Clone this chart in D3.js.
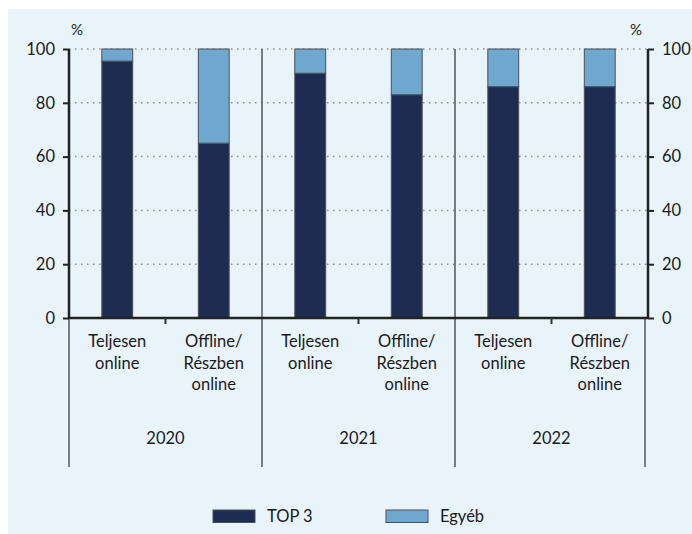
<!DOCTYPE html>
<html>
<head>
<meta charset="utf-8">
<script src="https://cdn.jsdelivr.net/npm/d3@7"></script>
<style>
  body { margin: 0; background: #fff; }
  text { font-family: Lato, "Open Sans", sans-serif; fill: #1a1a1a; }
</style>
</head>
<body>
<div id="chart"></div>
<script>
// data
var years = ["2020", "2021", "2022"];
var categories = [["Teljesen", "online"], ["Offline/", "Részben", "online"]];
var catKeys = ["teljes", "offline"];
var top3 = [95.5, 65, 91, 83, 86, 86];
var egyeb = [4.5, 35, 9, 17, 14, 14];
var seriesNames = ["TOP 3", "Egyéb"];
var colors = ["#1d2d52", "#6fa8cf"];
var yTicks = [0, 20, 40, 60, 80, 100];

var W = 692, H = 534;
var margin = {top: 49, right: 44, bottom: 216, left: 69};
var width = W - margin.left - margin.right;
var height = H - margin.top - margin.bottom;

var svg = d3.select("#chart")
    .append("svg")
    .attr("width", W)
    .attr("height", H);

// light background panel
svg.append("rect")
    .attr("x", 8).attr("y", 9)
    .attr("width", W - 8).attr("height", H - 9)
    .attr("fill", "#e8f3fa");

var g = svg.append("g")
    .attr("transform", "translate(" + margin.left + "," + margin.top + ")");

// build rows
var rows = [];
years.forEach(function (yr, i) {
    catKeys.forEach(function (c, j) {
        var k = i * 2 + j;
        rows.push({year: yr, cat: c, lines: categories[j], "TOP 3": top3[k], "Egyéb": egyeb[k]});
    });
});

var x0 = d3.scaleBand().domain(years).range([0, width]).padding(0);
var x1 = d3.scaleBand().domain(catKeys).range([0, x0.bandwidth()])
    .paddingInner(0.68).paddingOuter(0.34);
var y = d3.scaleLinear().domain([0, 100]).range([height, 0]);

// dotted gridlines
g.selectAll(".grid")
    .data(yTicks.filter(function (d) { return d > 0; }))
    .enter()
    .append("line")
    .attr("x1", 0).attr("x2", width)
    .attr("y1", function (d) { return y(d); })
    .attr("y2", function (d) { return y(d); })
    .attr("stroke", "#8a8f96")
    .attr("stroke-width", 1.5)
    .attr("stroke-dasharray", "1.5,4.5");

// group separators (through plot and below)
g.selectAll(".sep")
    .data(years.slice(1))
    .enter()
    .append("line")
    .attr("x1", function (d) { return x0(d); })
    .attr("x2", function (d) { return x0(d); })
    .attr("y1", 0)
    .attr("y2", 418)
    .attr("stroke", "#555")
    .attr("stroke-width", 1.5);

// outer separators below axis
[0, width - 3].forEach(function (xx) {
    g.append("line")
        .attr("x1", xx).attr("x2", xx)
        .attr("y1", height).attr("y2", 418)
        .attr("stroke", "#555")
        .attr("stroke-width", 1.5);
});

// stacked bars
var stack = d3.stack().keys(seriesNames);
var stacked = stack(rows);

g.selectAll(".layer")
    .data(stacked)
    .enter()
    .append("g")
    .attr("fill", function (d, i) { return colors[i]; })
    .selectAll("rect")
    .data(function (d) { return d; })
    .enter()
    .append("rect")
    .attr("x", function (d) { return x0(d.data.year) + x1(d.data.cat); })
    .attr("y", function (d) { return y(d[1]); })
    .attr("width", x1.bandwidth())
    .attr("height", function (d) { return y(d[0]) - y(d[1]); })
    .attr("stroke", "#4a4f58")
    .attr("stroke-width", 1);

// x axis line and ticks at category boundaries
var xaxis = g.append("g").attr("transform", "translate(0," + height + ")");
xaxis.append("line")
    .attr("x1", 0).attr("x2", width)
    .attr("stroke", "#222").attr("stroke-width", 2.5);
xaxis.selectAll(".xt")
    .data(years)
    .enter()
    .append("line")
    .attr("x1", function (d) { return x0(d) + x0.bandwidth() / 2; })
    .attr("x2", function (d) { return x0(d) + x0.bandwidth() / 2; })
    .attr("y1", 0).attr("y2", 6)
    .attr("stroke", "#333").attr("stroke-width", 2);

// category labels
rows.forEach(function (r) {
    var cx = x0(r.year) + x1(r.cat) + x1.bandwidth() / 2;
    var t = g.append("text")
        .attr("x", cx)
        .attr("y", height + 29)
        .attr("text-anchor", "middle")
        .attr("font-size", 16.5);
    r.lines.forEach(function (l, i) {
        t.append("tspan").attr("x", cx).attr("dy", i === 0 ? 0 : 21.5).text(l);
    });
});

// year labels
g.selectAll(".yr")
    .data(years)
    .enter()
    .append("text")
    .attr("x", function (d) { return x0(d) + x0.bandwidth() / 2; })
    .attr("y", height + 126)
    .attr("text-anchor", "middle")
    .attr("font-size", 16.5)
    .text(function (d) { return d; });

// y axes
var yaxisL = d3.axisLeft(y).tickValues(yTicks).tickSize(6).tickPadding(8);
var yaxisR = d3.axisRight(y).tickValues(yTicks).tickSize(6).tickPadding(8);
[g.append("g").call(yaxisL),
 g.append("g").attr("transform", "translate(" + width + ",0)").call(yaxisR)]
    .forEach(function (ax) {
        ax.select(".domain").attr("stroke", "#222").attr("stroke-width", 2.5)
            .attr("d", "M0," + height + "V0");
        ax.selectAll(".tick line").attr("stroke", "#222").attr("stroke-width", 2);
        ax.selectAll(".tick text")
            .attr("font-size", 16.5)
            .attr("fill", "#1a1a1a")
            .style("font-family", "Lato, 'Open Sans', sans-serif");
    });

g.append("text").attr("x", 8).attr("y", -14)
    .attr("text-anchor", "middle").attr("font-size", 15).text("%");
g.append("text").attr("x", width - 12).attr("y", -14)
    .attr("text-anchor", "middle").attr("font-size", 15).text("%");

// legend
var legend = svg.append("g").attr("transform", "translate(213,510)");
var lx = [0, 173];
seriesNames.forEach(function (s, i) {
    legend.append("rect")
        .attr("x", lx[i]).attr("y", 0)
        .attr("width", 42).attr("height", 12.5)
        .attr("fill", colors[i])
        .attr("stroke", "#4a4f58").attr("stroke-width", 1);
    legend.append("text")
        .attr("x", lx[i] + 54).attr("y", 12)
        .attr("font-size", 16.5)
        .text(s);
});
</script>
</body>
</html>
